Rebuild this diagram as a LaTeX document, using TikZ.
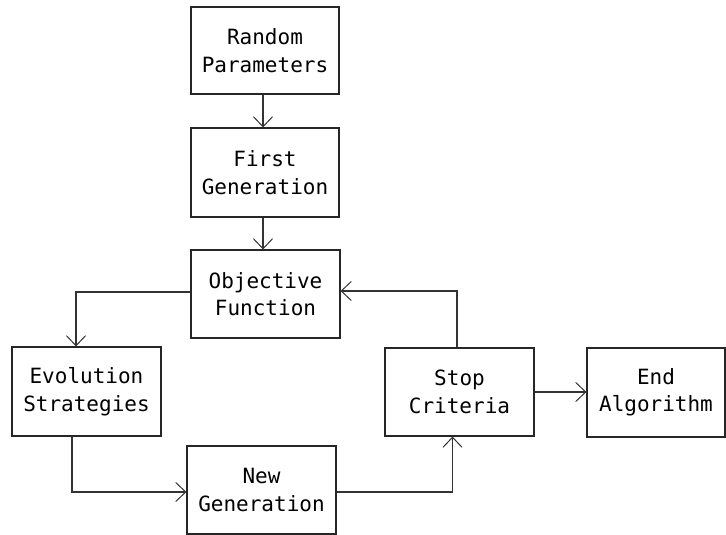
\documentclass[tikz,border=0pt]{standalone}
\usepackage{fontspec}
\newfontfamily\boxfont{DejaVu Sans Mono}
\usetikzlibrary{arrows.meta}
\begin{document}
\begin{tikzpicture}[x=1pt,y=-1pt,
  stage/.style={draw=black!85, line width=1.1pt, align=center, inner sep=0pt,
    font=\boxfont\fontsize{21}{27.5}\selectfont},
  flow/.style={draw=black!80, line width=1.1pt,
    -{Straight Barb[length=10pt,width=19pt,line width=1pt]}}]
  \useasboundingbox (0,0) rectangle (726,535);
  \node[stage, minimum width=148pt, minimum height=87pt] (rp) at (265,50.5) {Random\\Parameters};
  \node[stage, minimum width=148pt, minimum height=89pt] (fg) at (265,172.5) {First\\Generation};
  \node[stage, minimum width=149pt, minimum height=88pt] (of) at (265.5,294) {Objective\\Function};
  \node[stage, minimum width=149pt, minimum height=89pt] (es) at (86.5,391.5) {Evolution\\Strategies};
  \node[stage, minimum width=149pt, minimum height=88pt] (sc) at (459.5,392) {Stop\\Criteria};
  \node[stage, minimum width=138pt, minimum height=89pt] (ea) at (656,392.5) {End\\Algorithm};
  \node[stage, minimum width=149pt, minimum height=88pt] (ng) at (261.5,490) {New\\Generation};

  % vertical feed down the left column
  \draw[flow] ([xshift=-2pt]rp.south) -- ([xshift=-2pt]rp.south |- fg.north);
  \draw[flow] ([xshift=-2pt]fg.south) -- ([xshift=-2pt]fg.south |- of.north);
  % loop: objective -> evolution -> new generation -> stop -> objective
  \draw[flow] ([yshift=2pt]of.west) -| ([xshift=-10.5pt]es.north);
  \draw[flow] ([xshift=-14.5pt]es.south) |- ([yshift=-2pt]ng.west);
  \draw[flow] ([yshift=-2pt]ng.east) -| ([xshift=-7pt]sc.south);
  \draw[flow] ([xshift=-2.5pt]sc.north) |- ([yshift=3pt]of.east);
  % exit
  \draw[flow] (sc.east) -- (sc.east -| ea.west);
\end{tikzpicture}
\end{document}
